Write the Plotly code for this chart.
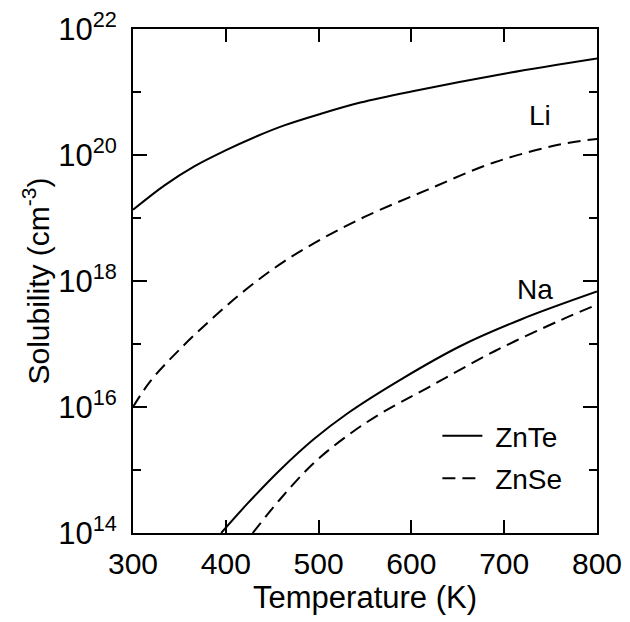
import plotly.graph_objects as go

# Data
T_li_znte = [300, 334, 366, 398, 434, 463, 500, 545, 600, 700, 800]
S_li_znte = [1.35e19, 3.3e19, 6.6e19, 1.15e20, 2.0e20, 2.95e20, 4.4e20, 6.8e20, 1.02e21, 1.95e21, 3.4e21]

T_li_znse = [300, 319, 352, 388, 424, 463, 506, 550, 617, 689, 761, 800]
S_li_znse = [1.0e16, 2.6e16, 8.7e16, 2.75e17, 7.8e17, 2.05e18, 4.9e18, 1.05e19, 2.8e19, 7.6e19, 1.48e20, 1.8e20]

T_na_znte = [395, 424, 459, 495, 531, 588, 653, 718, 800]
S_na_znte = [1.0e14, 3.0e14, 1.02e15, 3.1e15, 7.9e15, 2.7e16, 9.3e16, 2.45e17, 6.8e17]

T_na_znse = [429, 459, 495, 531, 567, 617, 689, 761, 800]
S_na_znse = [1.0e14, 3.5e14, 1.3e15, 3.5e15, 7.9e15, 2.0e16, 7.6e16, 2.4e17, 4.2e17]

x_ticks = [300, 400, 500, 600, 700, 800]
y_major = [1e14, 1e16, 1e18, 1e20, 1e22]
y_major_text = ["10<sup>14</sup>", "10<sup>16</sup>", "10<sup>18</sup>", "10<sup>20</sup>", "10<sup>22</sup>"]
y_minor = [1e15, 1e17, 1e19, 1e21]

FONT = "Liberation Sans, Arial, Helvetica, sans-serif"
DASH = "13px,7px"
NB = "\u00a0"

fig = go.Figure()
fig.add_trace(go.Scatter(x=T_li_znte, y=S_li_znte, mode="lines", name=NB + "ZnTe",
                         legendgroup="ZnTe", line=dict(color="black", width=2, shape="spline")))
fig.add_trace(go.Scatter(x=T_na_znte, y=S_na_znte, mode="lines", name="ZnTe", showlegend=False,
                         legendgroup="ZnTe", line=dict(color="black", width=2, shape="spline")))
fig.add_trace(go.Scatter(x=T_li_znse, y=S_li_znse, mode="lines", name=NB + "ZnSe",
                         legendgroup="ZnSe", line=dict(color="black", width=2, dash=DASH, shape="spline")))
fig.add_trace(go.Scatter(x=T_na_znse, y=S_na_znse, mode="lines", name="ZnSe", showlegend=False,
                         legendgroup="ZnSe", line=dict(color="black", width=2, dash=DASH, shape="spline")))

fig.add_annotation(x=739, y=20.62, xref="x", yref="y", text="Li", showarrow=False,
                   font=dict(family=FONT, size=28, color="black"))
fig.add_annotation(x=733, y=17.87, xref="x", yref="y", text="Na", showarrow=False,
                   font=dict(family=FONT, size=28, color="black"))

# The page body has an 8px margin, so the figure is sized to fit the 630x622 window.
fig.update_layout(
    width=622, height=614,
    margin=dict(l=125, r=33, t=21, b=89),
    paper_bgcolor="white", plot_bgcolor="white",
    font=dict(family=FONT, color="black"),
    legend=dict(x=0.656, y=0.242, xanchor="left", yanchor="top",
                bgcolor="rgba(0,0,0,0)", font=dict(family=FONT, size=28, color="black"),
                tracegroupgap=3, itemwidth=40),
)
fig.update_xaxes(
    range=[300, 800], tickvals=x_ticks, ticks="inside", ticklen=13, tickwidth=1.5,
    tickcolor="black", showline=True, linecolor="black", linewidth=2, mirror="allticks",
    showgrid=False, zeroline=False, automargin=False, ticklabelstandoff=3,
    ticklabeloverflow="allow",
    tickfont=dict(family=FONT, size=30, color="black"),
    title=dict(text="Temperature (K)", font=dict(family=FONT, size=31, color="black"), standoff=0),
)
fig.update_yaxes(
    type="log", range=[14, 22], tickvals=y_major, ticktext=y_major_text,
    ticks="inside", ticklen=14, tickwidth=1.5, tickcolor="black",
    minor=dict(tickvals=y_minor, ticks="inside", ticklen=8, tickwidth=1.5, tickcolor="black", showgrid=False),
    showline=True, linecolor="black", linewidth=2, mirror="allticks",
    showgrid=False, zeroline=False, automargin=False, ticklabelstandoff=8,
    ticklabeloverflow="allow",
    tickfont=dict(family=FONT, size=31, color="black"),
    title=dict(text="Solubility (cm<sup>-3</sup>)", font=dict(family=FONT, size=30, color="black"), standoff=0),
)

fig.write_html("out.html")
